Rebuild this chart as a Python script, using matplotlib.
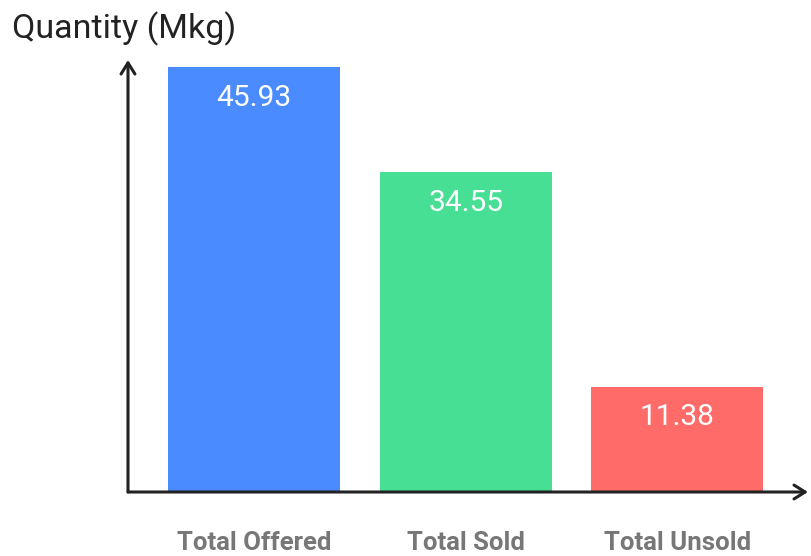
import matplotlib
matplotlib.use("Agg")
import matplotlib.pyplot as plt

categories = ["Total Offered", "Total Sold", "Total Unsold"]
quantities = [45.93, 34.55, 11.38]
bar_colors = ["#4A8CFF", "#46DF93", "#FF6B68"]

plt.rcParams["font.family"] = ["Roboto", "DejaVu Sans"]

fig = plt.figure(figsize=(8.11, 5.56), dpi=100)
ax = fig.add_axes([128 / 811, 64 / 556, 680 / 811, 432 / 556])

x = list(range(len(categories)))
bars = ax.bar(x, quantities, width=0.813, color=bar_colors, zorder=1)
ax.set_xlim(-0.596, 2.617)
ax.set_ylim(0, 46.7)

# value labels inside the top of each bar
for xi, v in zip(x, quantities):
    ax.annotate(f"{v:.2f}", (xi, v), xytext=(0, -22), textcoords="offset points",
                ha="center", va="center", color="white", fontsize=21.5)

# category names below the baseline
for xi, name in zip(x, categories):
    ax.annotate(name, (xi, 0), xytext=(0, -37), textcoords="offset points",
                ha="center", va="center", color="#777777", fontsize=18.5, fontweight="bold")

for s in ax.spines.values():
    s.set_visible(False)
ax.set_xticks([]); ax.set_yticks([])

# arrowed axes
arrow = dict(arrowstyle="->,head_length=0.8,head_width=0.5", color="#222222", lw=2.2,
             shrinkA=0, shrinkB=0)
ax.annotate("", xy=(0, 1.0), xytext=(0, 0), xycoords="axes fraction", arrowprops=arrow,
            annotation_clip=False)
ax.annotate("", xy=(1.0, 0), xytext=(0, 0), xycoords="axes fraction", arrowprops=arrow,
            annotation_clip=False)

fig.text(12 / 811, 1 - 29 / 556, "Quantity (Mkg)", ha="left", va="center",
         fontsize=24.5, color="#222222")

fig.savefig("out.png", dpi=100)
